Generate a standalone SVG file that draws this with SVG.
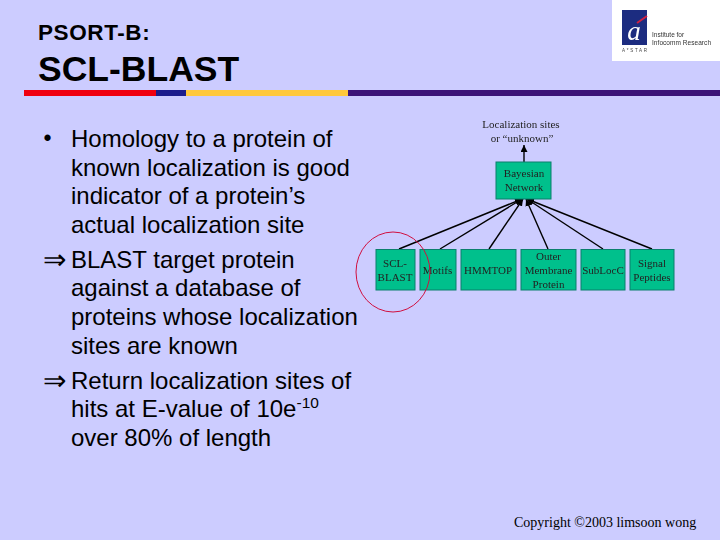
<svg xmlns="http://www.w3.org/2000/svg" width="720" height="540" viewBox="0 0 720 540">
<defs>
<marker id="a" markerUnits="userSpaceOnUse" markerWidth="8" markerHeight="8" refX="7" refY="3.500" orient="auto"><path d="M0 0L7 3.500L0 7Z" fill="#000"/></marker>
<filter id="soft" x="-5%" y="-5%" width="110%" height="110%"><feGaussianBlur stdDeviation="0.35"/></filter>
</defs>
<style>
.s{font-family:"Liberation Sans",Arial,sans-serif;fill:#000}
.b{font-size:24px}
.ar{font-family:"Liberation Serif","Times New Roman",serif;font-size:28px;fill:#000}
.d{font-family:"Liberation Serif","Times New Roman",serif;font-size:11px;fill:#222;text-anchor:middle}
.n{fill:#00c08c;stroke:#0b7f6c;stroke-width:1}
.l{stroke:#000;stroke-width:1.400;fill:none}
</style>
<rect width="720" height="540" fill="#ccccff"/>
<g id="title">
<text class="s" x="38" y="40" font-size="22.500" font-weight="bold" letter-spacing="0.600">PSORT-B:</text>
<text class="s" x="38" y="81" font-size="35.500" font-weight="bold">SCL-BLAST</text>
</g>
<g id="rule">
<rect x="24" y="90" width="132" height="6" fill="#f00010"/>
<rect x="156" y="90" width="30" height="6" fill="#1c1c8c"/>
<rect x="186" y="90" width="162" height="6" fill="#ffc83c"/>
<rect x="348" y="90" width="372" height="6" fill="#3c1478"/>
</g>
<g id="logo">
<rect x="612" y="0" width="108" height="61" fill="#fff"/>
<rect x="622" y="10" width="25" height="35" fill="#1c2c80"/>
<path d="M637 23L647 16" stroke="#d02040" stroke-width="2"/>
<g filter="url(#soft)">
<text x="634" y="40" font-family="Liberation Serif,serif" font-style="italic" font-size="27" fill="#fff" text-anchor="middle">a</text>
<text x="622" y="51.500" font-family="Liberation Sans,sans-serif" font-size="4.500" fill="#444" textLength="25">A*STAR</text>
<text x="652" y="37" font-family="Liberation Sans,sans-serif" font-size="6.500" fill="#333">Institute for</text>
<text x="652" y="45" font-family="Liberation Sans,sans-serif" font-size="6.500" fill="#333" textLength="59">Infocomm Research</text>
</g>
</g>
<g id="body">
<text x="43.500" y="146" class="s" font-size="23">•</text><text x="71" y="147" class="s b">Homology to a protein of</text>
<text x="71" y="176" class="s b">known localization is good</text>
<text x="71" y="204" class="s b">indicator of a protein’s</text>
<text x="71" y="233" class="s b">actual localization site</text>
<text x="43" y="269" class="ar">⇒</text><text x="71" y="268" class="s b">BLAST target protein</text>
<text x="71" y="296" class="s b">against a database of</text>
<text x="71" y="325" class="s b">proteins whose localization</text>
<text x="71" y="354" class="s b">sites are known</text>
<text x="43" y="390" class="ar">⇒</text><text x="71" y="389" class="s b">Return localization sites of</text>
<text x="71" y="417" class="s b">hits at E-value of 10e<tspan font-size="15.500" dy="-9">-10</tspan></text>
<text x="71" y="446" class="s b">over 80% of length</text>
</g>
<g id="connectors">
<path class="l" d="M524 162V145" marker-end="url(#a)"/>
<path class="l" d="M399 249L522 199" marker-end="url(#a)"/>
<path class="l" d="M440 249L522 199" marker-end="url(#a)"/>
<path class="l" d="M489 249L523 199" marker-end="url(#a)"/>
<path class="l" d="M548 249L526 199" marker-end="url(#a)"/>
<path class="l" d="M603 249L527 199" marker-end="url(#a)"/>
<path class="l" d="M652 249L527 199" marker-end="url(#a)"/>
</g>
<g id="localization" filter="url(#soft)"><text class="d" x="521" y="128">Localization sites</text><text class="d" x="522" y="142">or “unknown”</text></g>
<g id="bayesian"><rect class="n" x="496" y="162" width="55" height="37"/><g filter="url(#soft)"><text class="d" x="524" y="177">Bayesian</text><text class="d" x="524" y="191">Network</text></g></g>
<g id="scl"><rect class="n" x="376" y="249.500" width="39" height="40.500"/><g filter="url(#soft)"><text class="d" x="395" y="267">SCL-</text><text class="d" x="395" y="281">BLAST</text></g></g>
<g id="motifs"><rect class="n" x="420" y="249.500" width="36" height="40.500"/><g filter="url(#soft)"><text class="d" x="437.500" y="274">Motifs</text></g></g>
<g id="hmmtop"><rect class="n" x="461" y="249.500" width="55" height="40.500"/><g filter="url(#soft)"><text class="d" x="488" y="274">HMMTOP</text></g></g>
<g id="omp"><rect class="n" x="521" y="249.500" width="55" height="40.500"/><g filter="url(#soft)"><text class="d" x="548.500" y="260">Outer</text><text class="d" x="548.500" y="274">Membrane</text><text class="d" x="548.500" y="288">Protein</text></g></g>
<g id="subloc"><rect class="n" x="581" y="249.500" width="44" height="40.500"/><g filter="url(#soft)"><text class="d" x="603" y="274">SubLocC</text></g></g>
<g id="signal"><rect class="n" x="630" y="249.500" width="44" height="40.500"/><g filter="url(#soft)"><text class="d" x="652" y="267">Signal</text><text class="d" x="652" y="281">Peptides</text></g></g>
<ellipse id="highlight" cx="393" cy="272" rx="37" ry="40" fill="none" stroke="#d01040" stroke-width="1"/>
<text id="copyright" x="514" y="527" font-family="Liberation Serif,serif" font-size="14" fill="#000">Copyright ©2003 limsoon wong</text>
</svg>
